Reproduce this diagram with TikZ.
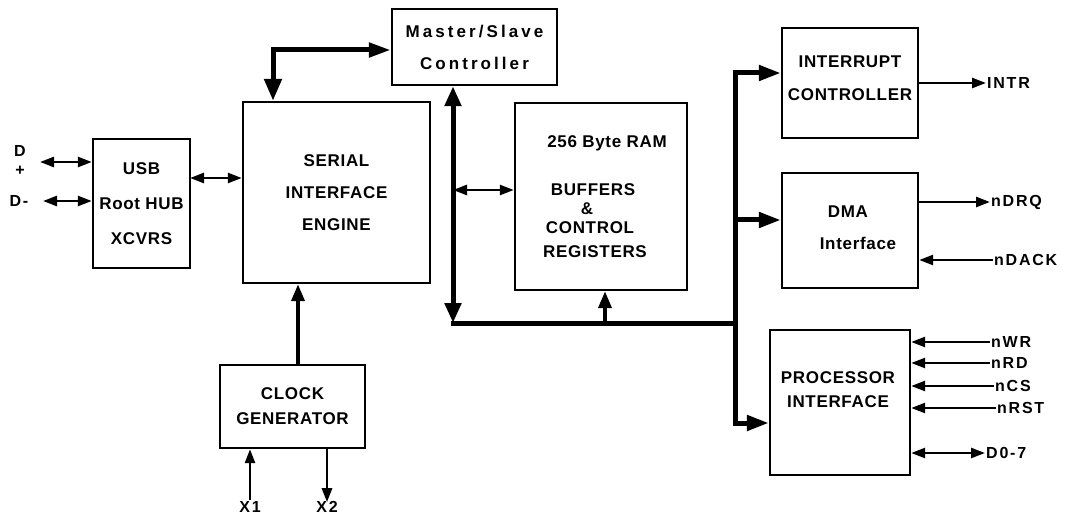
\documentclass[tikz,border=0pt]{standalone}
\usepackage{fontspec}
\setmainfont{Liberation Sans}
\newfontfamily\lab{Liberation Sans}[LetterSpace=4]
\newfontfamily\labs{Liberation Sans}[LetterSpace=11]
\newfontfamily\labw{Liberation Sans}[LetterSpace=18]
\usetikzlibrary{arrows.meta}
\begin{document}
\begin{tikzpicture}[x=1pt,y=-1pt,
  box/.style={draw, line width=2.4pt, rectangle, inner sep=0pt, align=center,
    font=\lab\bfseries\fontsize{17}{20}\selectfont},
  txt/.style={inner sep=0pt, font=\lab\bfseries\fontsize{17}{20}\selectfont},
  sig/.style={inner sep=1pt, font=\labs\bfseries\fontsize{16}{18}\selectfont},
  thinarr/.style={line width=2.6pt, -{Triangle[length=14pt,width=10pt]}},
  thinbi/.style={line width=2.6pt, {Triangle[length=14pt,width=10pt]}-{Triangle[length=14pt,width=10pt]}},
  medarr/.style={line width=3.8pt, -{Triangle[length=17pt,width=13pt]}},
  busarr/.style={line width=5pt, -{Triangle[length=22pt,width=15pt]}},
  busbi/.style={line width=5pt, {Triangle[length=20pt,width=16pt]}-{Triangle[length=20pt,width=16pt]}},
  busline/.style={line width=5pt}
]
\useasboundingbox[fill=white] (0,0) rectangle (1072,516);

% boxes
\node[box, minimum width=97pt, minimum height=129pt] (usb) at (141.5,203.5)
  {USB\\[15pt]Root HUB\\[15pt]XCVRS};
\node[box, minimum width=187pt, minimum height=181pt] (sie) at (336.5,192.5)
  {SERIAL\\[12pt]INTERFACE\\[12pt]ENGINE};
\node[box, minimum width=165pt, minimum height=76pt,
  font=\labw\bfseries\fontsize{17}{20}\selectfont] (ms) at (474.5,47)
  {Master/Slave\\[12pt]Controller};
\node[box, minimum width=172pt, minimum height=187pt] (buf) at (601,196.5) {};
\node[box, minimum width=136pt, minimum height=110pt] (intc) at (850,83) {};
\node[box, minimum width=136pt, minimum height=115pt] (dma) at (850,230.5) {};
\node[box, minimum width=140pt, minimum height=145pt] (proc) at (840,402.5) {};
\node[box, minimum width=145pt, minimum height=83pt] (clk) at (292.5,406.5)
  {CLOCK\\[5pt]GENERATOR};

% texts inside boxes
\node[txt] (t256) at (607,143) {256 Byte RAM};
\node[txt] (tbuf) at (593,190) {BUFFERS};
\node[txt] (tamp) at (587,209) {\&};
\node[txt] (tctl) at (590,228) {CONTROL};
\node[txt] (treg) at (595,252) {REGISTERS};
\node[txt] (tint) at (850,62) {INTERRUPT};
\node[txt] (tcon) at (850,95) {CONTROLLER};
\node[txt] (tdma) at (848,212) {DMA};
\node[txt] (tdif) at (858,243) {Interface};
\node[txt] (tpro) at (838,378) {PROCESSOR};
\node[txt] (tpif) at (838,402) {INTERFACE};

% signal labels
\node[sig, align=center] (dplab) at (20,160) {D\\[1pt]+};
\node[sig] (dmlab) at (19,201) {D-};
\coordinate (dpe) at (40,162);
\coordinate (dme) at (43,201);
\node[sig, anchor=west] (intr) at (986,83) {INTR};
\node[sig, anchor=west] (ndrq) at (990,202) {nDRQ};
\node[sig, anchor=west] (ndack) at (993,260) {nDACK};
\node[sig, anchor=west] (nwr) at (990,342) {nWR};
\node[sig, anchor=west] (nrd) at (990,363) {nRD};
\node[sig, anchor=west] (ncs) at (994,386) {nCS};
\node[sig, anchor=west] (nrst) at (996,408) {nRST};
\node[sig, anchor=west] (d07) at (985,453) {D0-7};
\node[sig] (x1) at (250,507) {X1};
\node[sig] (x2) at (327,507) {X2};

% coordinates
\coordinate (busL) at (453,323);
\coordinate (busR) at (735,323);
\coordinate (rtop) at (735,73);
\coordinate (rdma) at (735,220);
\coordinate (rbot) at (735,423);
\coordinate (smc) at (273,50);
\coordinate (bufin) at (605,323);
\coordinate (clkup) at (298,365);
\coordinate (usbsie) at (190,178);
\coordinate (busbuf) at (453,190);

% left side
\draw[thinbi] (dpe) -- (usb.west |- dpe);
\draw[thinbi] (dme) -- (usb.west |- dme);
\draw[thinbi] (usbsie) -- (sie.west |- usbsie);

% SIE <-> Master/Slave
\draw[busline, {Triangle[length=22pt,width=17pt]}-{Triangle[length=22pt,width=14pt]}]
  (sie.north -| smc) -- (smc) -- (ms.west |- smc);

% internal bus
\draw[busbi] (ms.south -| busL) -- (busL);
\draw[busline] ([xshift=-2.5pt]busL) -- (busR);
\draw[thinbi] (busbuf) -- (buf.west |- busbuf);
\draw[medarr] (bufin) -- (buf.south -| bufin);

% right bus
\draw[busline] ([yshift=-2.5pt]rtop) -- (busR) -- (rbot);
\draw[busarr] ([xshift=-2.5pt]rtop) -- (intc.west |- rtop);
\draw[busarr] (rdma) -- (dma.west |- rdma);
\draw[busarr] ([xshift=-2.5pt]rbot) -- (proc.west |- rbot);

% clock
\draw[medarr] (clkup) -- (sie.south -| clkup);
\draw[thinarr] (x1.north) -- (clk.south -| x1);
\draw[thinarr] (clk.south -| x2) -- ([yshift=-2pt]x2.north);

% right signals
\draw[thinarr] (intc.east |- intr) -- (intr.west);
\draw[thinarr] (dma.east |- ndrq) -- (ndrq.west);
\draw[thinarr] (ndack.west) -- (dma.east |- ndack);
\draw[thinarr] (nwr.west) -- (proc.east |- nwr);
\draw[thinarr] (nrd.west) -- (proc.east |- nrd);
\draw[thinarr] (ncs.west) -- (proc.east |- ncs);
\draw[thinarr] (nrst.west) -- (proc.east |- nrst);
\draw[thinbi] (proc.east |- d07) -- (d07.west);
\end{tikzpicture}
\end{document}
